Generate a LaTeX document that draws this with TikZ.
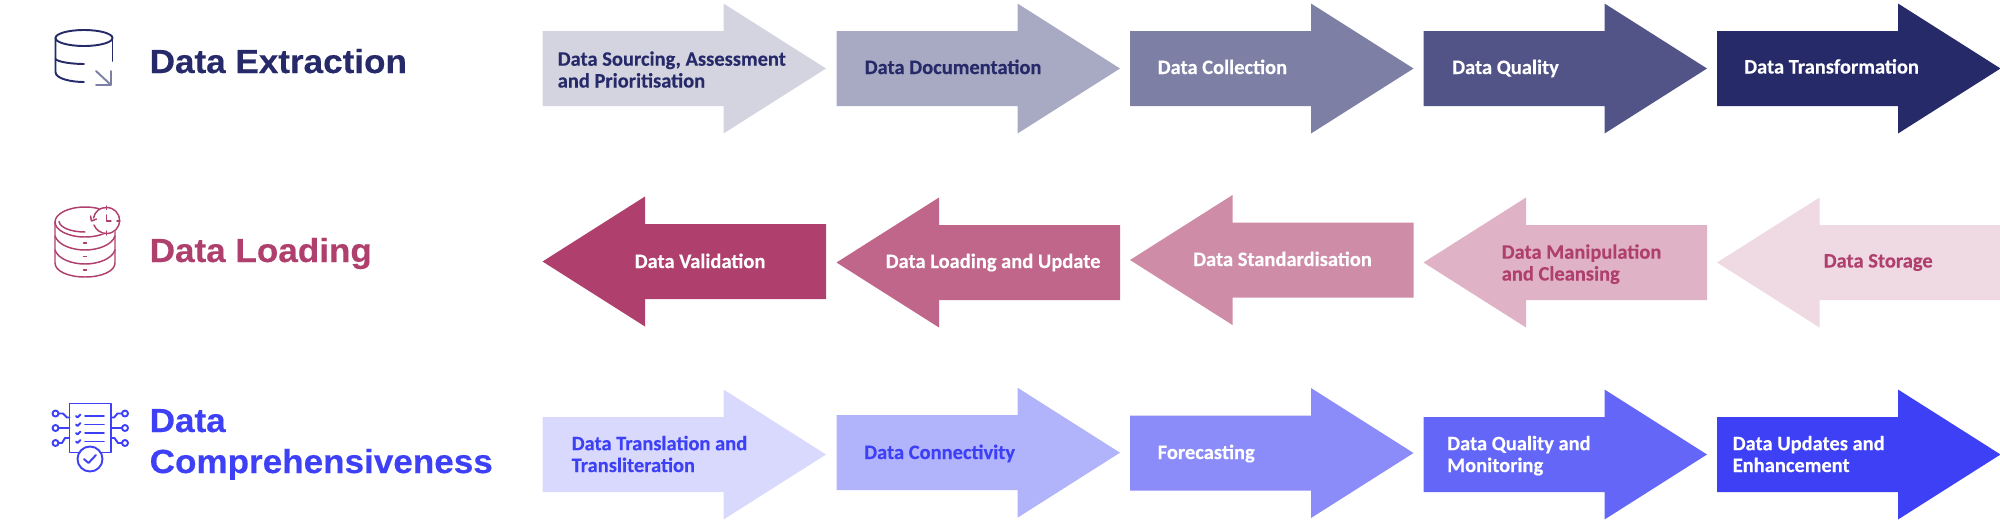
\documentclass[tikz,border=0pt]{standalone}
\usepackage{fontspec}
\setmainfont{Carlito}[Ligatures={Common,Rare}, BoldFeatures={FakeBold=0.25}]
\newfontfamily\headfont{Liberation Sans}[FakeStretch=1.05, BoldFeatures={FakeBold=0.3}]
\definecolor{navyA}{HTML}{D4D4E1}
\definecolor{navyB}{HTML}{A8A9C3}
\definecolor{navyC}{HTML}{7D7FA5}
\definecolor{navyD}{HTML}{525487}
\definecolor{navyE}{HTML}{262A69}
\definecolor{pinkA}{HTML}{AF406D}
\definecolor{pinkB}{HTML}{BF668A}
\definecolor{pinkC}{HTML}{CF8CA7}
\definecolor{pinkD}{HTML}{DFB3C5}
\definecolor{pinkE}{HTML}{EFD9E2}
\definecolor{blueA}{HTML}{D8D9FD}
\definecolor{blueB}{HTML}{B1B3FB}
\definecolor{blueC}{HTML}{8B8CF9}
\definecolor{blueD}{HTML}{6466F7}
\definecolor{blueE}{HTML}{3D40F5}
\tikzset{
    steplabel/.style={anchor=base west, align=left, inner sep=0pt, font=\fontsize{5.83pt}{6.2pt}\selectfont\bfseries},
    headlabel/.style={anchor=base west, inner sep=0pt, font=\fontsize{9.5pt}{11.7pt}\headfont\bfseries},
    iconline/.style={line width=0.55pt, line cap=round, line join=round},
    iconthin/.style={line width=0.42pt, line cap=round, line join=round}
}
\begin{document}
\begin{tikzpicture}[x=0.01cm, y=-0.01cm, >=latex]
    \useasboundingbox (0,0) rectangle (2000,530);

    % 1. Rows one and three, arrows pointing right
    \foreach \xl/\yc/\fc in {542.5/68.5/navyA, 836.5/68.5/navyB, 1130/68.5/navyC, 1423.5/68.5/navyD, 1717/68.5/navyE,
                             542.5/454.5/blueA, 836.5/452.7/blueB, 1130/453/blueC, 1423.5/454.5/blueD, 1717/454.5/blueE}
        \fill[\fc] (\xl,\yc-37.5) -- ++(181,0) -- ++(0,-27.5) -- ++(102.5,65) -- ++(-102.5,65) -- ++(0,-27.5) -- ++(-181,0) -- cycle;

    % 2. Row two, arrows pointing left
    \foreach \xl/\yc/\fc in {542.5/261.5/pinkA, 836.5/262.5/pinkB, 1130/260/pinkC, 1423.5/262.5/pinkD, 1717/262.5/pinkE}
        \fill[\fc] (\xl,\yc) -- ++(102.5,-65) -- ++(0,27.5) -- ++(181,0) -- ++(0,75) -- ++(-181,0) -- ++(0,27.5) -- cycle;

    % 3. Labels of the arrows
    \node[steplabel, text=navyE] (sourcing) at (557,87.5) {Data Sourcing, Assessment\\and Prioritisation};
    \node[steplabel, text=navyE] (documentation) at (864,74) {Data Documentation};
    \node[steplabel, text=white] (collection) at (1157,74) {Data Collec\kern0pt tion};
    \node[steplabel, text=white] (quality) at (1451.5,74) {Data Quality};
    \node[steplabel, text=white] (transformation) at (1743.5,73.5) {Data Transformation};

    \node[steplabel, text=white] (validation) at (634,268) {Data Validation};
    \node[steplabel, text=white] (loadupdate) at (885,268) {Data Loading and Update};
    \node[steplabel, text=white] (standard) at (1192.5,266) {Data Standardisation};
    \node[steplabel, text=pinkA] (cleansing) at (1501,280.5) {Data Manipulation\\and Cleansing};
    \node[steplabel, text=pinkA] (storage) at (1823,267.5) {Data Storage};

    \node[steplabel, text=blueE] (translation) at (571,472) {Data Translation and\\Transliteration};
    \node[steplabel, text=blueE] (connectivity) at (863.5,459) {Data Connec\kern0pt tivity};
    \node[steplabel, text=white] (forecasting) at (1157,459) {Forecas\kern0pt ting};
    \node[steplabel, text=white] (monitoring) at (1446.5,472) {Data Quality and\\Monitoring};
    \node[steplabel, text=white] (enhancement) at (1732,472) {Data Updates and\\Enhancement};

    % 4. Headings
    \node[headlabel, text=navyE] (extraction) at (149,73) {Data Extraction};
    \node[headlabel, text=pinkA] (loading) at (149,262) {Data Loading};
    \node[headlabel, text=blueE] (compA) at (149,432) {Data};
    \node[headlabel, text=blueE] (compB) at (149,473) {Comprehensiveness};

    % 5. Icon of the first row
    \draw[iconline, navyE] (84,38) ellipse (28.5 and 8);
    \draw[iconline, navyE] (55.5,38) -- (55.5,72) .. controls (55.5,79) and (72,82) .. (84,82);
    \draw[iconline, navyE] (55.5,59) .. controls (58,62) and (72,64) .. (84,64);
    \draw[iconline, navyE] (112.5,38) -- (112.5,61);
    \draw[iconline, navyC] (96,71) -- (111,85) (111,71) -- (111,85) -- (96,85);

    % 6. Icon of the second row
    \draw[iconthin, pinkA] (85,222) ellipse (30 and 15);
    \draw[iconthin, pinkA] (59,221.5) .. controls (60,228) and (72,232) .. (85,232);
    \draw[iconthin, pinkA] (55,222) -- (55,263) .. controls (55,271) and (68,277) .. (85,277) .. controls (102,277) and (115,271) .. (115,263) -- (115,222);
    \foreach \yc in {236,250}
        \draw[iconthin, pinkA] (55,\yc) .. controls (58,\yc+9) and (72,\yc+14) .. (85,\yc+14) .. controls (98,\yc+14) and (112,\yc+9) .. (115,\yc);
    \foreach \yc in {243,256.5,270}
        \draw[iconthin, pinkA] (83.5,\yc) -- (86.5,\yc);
    \fill[white] (106.5,220.5) circle (14);
    \draw[iconthin, pinkA] (93.5,218) .. controls (95,211) and (100,207.5) .. (106.5,207.5) .. controls (114,207.5) and (119.5,213) .. (119.5,220.5) .. controls (119.5,228) and (114,233.5) .. (106.5,233.5) .. controls (101,233.5) and (96,230) .. (94,225);
    \draw[iconthin, pinkA] (90.5,216) -- (91.5,221) -- (96.5,219);
    \draw[iconthin, pinkA] (106.5,206) -- (106.5,209.5) (106.5,231) -- (106.5,235) (117,221) -- (120,221);
    \draw[iconthin, pinkA] (106.5,215) -- (106.5,221) -- (111,221);

    % 7. Icon of the third row
    \draw[iconline, blueE] (69.5,403.5) rectangle (111,452.5);
    \foreach \yc in {416,424.5,433,441.5} {
        \draw[iconline, blueE] (85,\yc) -- (104,\yc);
        \draw[iconline, blueE] (76,\yc) -- (77.5,\yc+1.5) -- (80.5,\yc-1.5);
    }
    \fill[white] (90,459) circle (12.5);
    \draw[iconline, blueE] (90,459) circle (12.5);
    \draw[iconline, blueE] (84,459) -- (88.5,463) -- (96,455);
    \foreach \xc/\yc in {55.5/413.5, 55.5/428, 55.5/443, 125/413.5, 125/428, 125/443}
        \draw[iconline, blueE] (\xc,\yc) circle (3);
    \draw[iconline, blueE] (58.5,413.5) -- (63,413.5) -- (67,417.5) -- (69.5,417.5);
    \draw[iconline, blueE] (58.5,428) -- (69.5,428);
    \draw[iconline, blueE] (58.5,443) -- (62,443) -- (65,438) -- (69.5,438);
    \draw[iconline, blueE] (122,413.5) -- (117.5,413.5) -- (114,417.5) -- (111,417.5);
    \draw[iconline, blueE] (122,428) -- (111,428);
    \draw[iconline, blueE] (122,443) -- (118,443) -- (114.5,438) -- (111,438);
\end{tikzpicture}
\end{document}
